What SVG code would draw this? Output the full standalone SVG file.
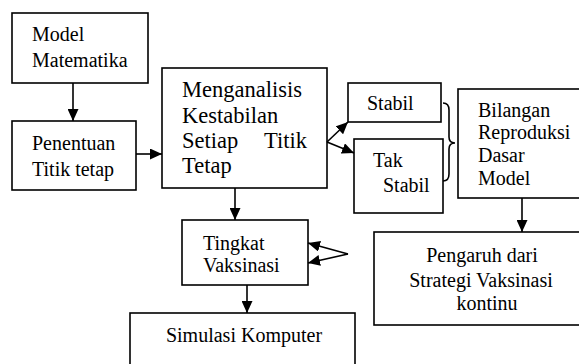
<svg xmlns="http://www.w3.org/2000/svg" width="579" height="364" viewBox="0 0 579 364">
<style>
.box{fill:#fff;stroke:#000;stroke-width:1.6}
.t{font-family:"Liberation Serif","Times New Roman",serif;font-size:20px;fill:#000}
.big{font-size:22.5px}
.c{text-anchor:middle}
.ln{fill:none;stroke:#000;stroke-width:1.6}
</style>
<defs>
<marker id="ah" markerUnits="userSpaceOnUse" markerWidth="13" markerHeight="11" refX="12" refY="5.5" orient="auto">
<path d="M0,0 L12,5.5 L0,11 z" fill="#000"/>
</marker>
</defs>
<rect width="579" height="364" fill="#fff"/>
<g id="model">
<rect class="box" x="12" y="13" width="136" height="70"/>
<text class="t" x="32" y="41">Model</text>
<text class="t" x="32" y="67">Matematika</text>
</g>
<g id="penentuan">
<rect class="box" x="12" y="121" width="124" height="69"/>
<text class="t" x="32" y="150">Penentuan</text>
<text class="t" x="32" y="176">Titik tetap</text>
</g>
<g id="menganalisis">
<rect class="box" x="162" y="68" width="165" height="120"/>
<text class="t big" x="182" y="97">Menganalisis</text>
<text class="t big" x="182" y="123">Kestabilan</text>
<text class="t big" x="182" y="148">Setiap</text>
<text class="t big" x="307" y="148" text-anchor="end">Titik</text>
<text class="t big" x="182" y="173">Tetap</text>
</g>
<g id="stabil">
<rect class="box" x="348" y="83" width="93" height="39"/>
<text class="t" x="367" y="110">Stabil</text>
</g>
<g id="takstabil">
<rect class="box" x="354" y="139" width="89" height="74"/>
<text class="t" x="373" y="167">Tak</text>
<text class="t" x="383" y="192">Stabil</text>
</g>
<g id="brace">
<path class="ln" d="M443,103 Q449,103 449,110 L449,137 Q449,143 455,143 Q449,143 449,149 L449,174 Q449,181 443,181"/>
</g>
<g id="bilangan">
<rect class="box" x="458" y="89" width="132" height="109"/>
<text class="t" x="478" y="117">Bilangan</text>
<text class="t" x="478" y="139">Reproduksi</text>
<text class="t" x="478" y="162">Dasar</text>
<text class="t" x="478" y="185">Model</text>
</g>
<g id="tingkat">
<rect class="box" x="182" y="220" width="126" height="65"/>
<text class="t" x="203" y="250">Tingkat</text>
<text class="t" x="203" y="272">Vaksinasi</text>
</g>
<g id="simulasi">
<rect class="box" x="130" y="313" width="225" height="70"/>
<text class="t c" x="244" y="342">Simulasi Komputer</text>
</g>
<g id="pengaruh">
<rect class="box" x="374" y="232" width="216" height="93"/>
<text class="t c" x="482" y="262">Pengaruh dari</text>
<text class="t c" x="481" y="287">Strategi Vaksinasi</text>
<text class="t c" x="487" y="310">kontinu</text>
</g>
<g id="connectors">
<line class="ln" x1="73" y1="83" x2="73" y2="121" marker-end="url(#ah)"/>
<line class="ln" x1="136" y1="154" x2="162" y2="154" marker-end="url(#ah)"/>
<line class="ln" x1="327" y1="142" x2="348" y2="122" marker-end="url(#ah)"/>
<line class="ln" x1="327" y1="142" x2="354" y2="153" marker-end="url(#ah)"/>
<line class="ln" x1="235" y1="188" x2="235" y2="220" marker-end="url(#ah)"/>
<line class="ln" x1="348" y1="254" x2="308" y2="243" marker-end="url(#ah)"/>
<line class="ln" x1="348" y1="254" x2="308" y2="263" marker-end="url(#ah)"/>
<line class="ln" x1="247" y1="285" x2="247" y2="313" marker-end="url(#ah)"/>
<line class="ln" x1="522" y1="198" x2="522" y2="232" marker-end="url(#ah)"/>
</g>
</svg>
